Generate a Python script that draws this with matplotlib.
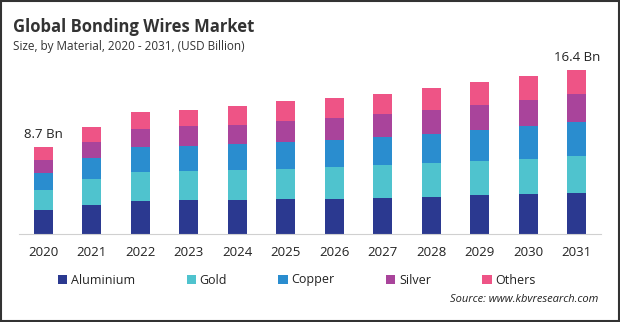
import numpy as np
import matplotlib.pyplot as plt
from matplotlib.patches import Rectangle

plt.rcParams['font.family'] = ['Open Sans', 'DejaVu Sans']

years = ['2020', '2021', '2022', '2023', '2024', '2025',
         '2026', '2027', '2028', '2029', '2030', '2031']
aluminium = [2.4, 2.9, 3.3, 3.4, 3.4, 3.5, 3.5, 3.6, 3.7, 3.9, 4.0, 4.1]
gold      = [2.0, 2.6, 2.9, 2.9, 3.0, 3.0, 3.2, 3.3, 3.4, 3.4, 3.5, 3.7]
copper    = [1.7, 2.1, 2.5, 2.5, 2.6, 2.7, 2.75, 2.8, 2.95, 3.1, 3.3, 3.4]
silver    = [1.35, 1.65, 1.85, 2.0, 1.95, 2.1, 2.15, 2.3, 2.35, 2.5, 2.6, 2.8]
others    = [1.25, 1.5, 1.7, 1.65, 1.9, 2.0, 2.0, 2.0, 2.25, 2.3, 2.45, 2.4]
end_labels = {0: '8.7 Bn', 11: '16.4 Bn'}

series = [('Aluminium', aluminium, '#2B3990'),
          ('Gold', gold, '#4FC3CE'),
          ('Copper', copper, '#2A8DCF'),
          ('Silver', silver, '#A9449B'),
          ('Others', others, '#EE5486')]

fig = plt.figure(figsize=(6.2, 3.22), dpi=100)
ax = fig.add_axes([19 / 620, 1 - 234 / 322, 582 / 620, 180 / 322])

x = np.arange(len(years))
bottom = np.zeros(len(years))
for name, vals, col in series:
    ax.bar(x, vals, width=0.39, bottom=bottom, color=col, label=name)
    bottom += np.array(vals)

for i, txt in end_labels.items():
    ax.text(x[i], bottom[i] + 0.6, txt, ha='center', va='bottom',
            fontsize=9.5, color='#222222')

ax.set_xlim(-0.5, len(years) - 0.5)
ax.set_ylim(0, 18)
ax.set_yticks([])
ax.set_xticks(x)
ax.set_xticklabels(years, fontsize=9.5, color='#222222')
ax.tick_params(axis='x', length=0, pad=9)
for s in ['top', 'right', 'left']:
    ax.spines[s].set_visible(False)
ax.spines['bottom'].set_color('#d0d0d0')

leg = fig.legend(loc='center', bbox_to_anchor=(297 / 620, 1 - 280 / 322), ncol=5,
                 frameon=False, fontsize=9, handlelength=0.75, handleheight=0.75,
                 handletextpad=0.3, columnspacing=4.1)
for t in leg.get_texts():
    t.set_color('#222222')

fig.text(13 / 620, 1 - 32 / 322, 'Global Bonding Wires Market', fontsize=12,
         fontweight='bold', color='#333333', va='baseline')
fig.text(13 / 620, 1 - 50 / 322, 'Size, by Material, 2020 - 2031, (USD Billion)',
         fontsize=8.5, color='#333333', va='baseline')
fig.text(598 / 620, 1 - 300 / 322, 'Source: www.kbvresearch.com', fontsize=8,
         style='italic', color='#222222', ha='right', va='center')

fig.patches.append(Rectangle((0.002, 0.003), 0.996, 0.994, transform=fig.transFigure,
                             fill=False, edgecolor='#333333', linewidth=1.5))

fig.savefig('out.png', dpi=100)
